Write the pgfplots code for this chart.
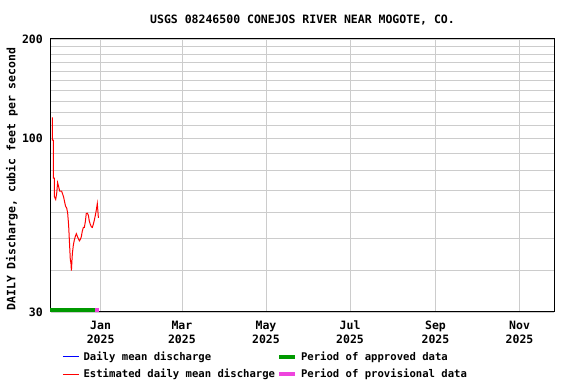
\documentclass[border=0pt]{standalone}
\usepackage{fontspec}
\setmainfont{DejaVu Sans Mono}
\usepackage{pgfplots}
\pgfplotsset{compat=1.18}
\definecolor{gridgray}{RGB}{204,204,204}
\definecolor{apgreen}{RGB}{0,153,0}
\definecolor{provpink}{RGB}{238,68,221}
\definecolor{dmblue}{RGB}{0,0,255}
\definecolor{estred}{RGB}{255,0,0}
\newcommand{\fa}{\fontsize{11.5bp}{14bp}\selectfont\bfseries}
\newcommand{\fb}{\fontsize{10.6bp}{12bp}\selectfont\bfseries}
\begin{document}
\begin{tikzpicture}
\useasboundingbox (-51bp,-72bp) rectangle (525bp,312bp);
\begin{axis}[
  scale only axis, width=503bp, height=273bp,
  xmin=-36, xmax=329, ymode=log, ymin=30, ymax=200,
  xtick={0,59,120,181,243,304},
  xticklabels={{Jan\\2025},{Mar\\2025},{May\\2025},{Jul\\2025},{Sep\\2025},{Nov\\2025}},
  x tick label style={align=center, font=\fa, inner sep=0pt, yshift=-9bp},
  ytick={30,100,200}, yticklabels={30,100,200},
  minor ytick={40,50,60,70,80,90,110,120,130,140,150,160,170,180,190},
  y tick label style={font=\fa, inner sep=0pt, xshift=-8bp},
  grid=both, major grid style={gridgray, line width=0.8bp}, minor grid style={gridgray, line width=0.8bp},
  major tick length=0pt, minor tick length=0pt,
  axis line style={black, line width=1bp},
  title={USGS 08246500 CONEJOS RIVER NEAR MOGOTE, CO.},
  title style={at={(axis description cs:0.5,1)}, anchor=center, yshift=13bp, font=\fa},
  ylabel={DAILY Discharge, cubic feet per second},
  ylabel style={at={(axis description cs:-0.0775,0.487)}, anchor=center, font=\fa},
  legend columns=2,
  legend cell align=left,
  legend style={draw=none, fill=none, at={(axis description cs:0.0219,-0.139)}, anchor=north west, font=\fb, inner sep=0pt, row sep=3bp,
    /tikz/every odd column/.append style={column sep=2bp},
    /tikz/every even column/.append style={column sep=0bp}},
  clip=false
]
\addlegendimage{legend image code/.code={\draw[dmblue, line width=1.4bp] (0bp,0.5bp) -- (16bp,0.5bp);}}
\addlegendentry{Daily mean discharge}
\addlegendimage{legend image code/.code={\draw[apgreen, line width=4bp] (0bp,0bp) -- (16bp,0bp);}}
\addlegendentry{Period of approved data}
\addlegendimage{legend image code/.code={\draw[estred, line width=1.2bp] (0bp,0bp) -- (16bp,0bp);}}
\addlegendentry{Estimated daily mean discharge}
\addlegendimage{legend image code/.code={\draw[provpink, line width=4bp] (0bp,0bp) -- (16bp,0bp);}}
\addlegendentry{Period of provisional data}

\addplot[apgreen, line width=4.5bp, forget plot] coordinates {(-36.7,30.42) (-4.1,30.42)};
\addplot[provpink, line width=4.5bp, forget plot] coordinates {(-4.1,30.42) (-1.0,30.42)};

\addplot[estred, line width=1bp, forget plot] coordinates {
(-35.0,116) (-35.0,99) (-34.3,99) (-34.3,76) (-33.6,76) (-33.6,67) (-32.6,65.6) (-31.9,68.2) (-31.2,73.7) (-30.4,71.5) (-29.7,69.5) (-28.3,69.5) (-27.5,68) (-26.8,66.6) (-26.1,64.4) (-25.4,62.5) (-24.6,61.8) (-23.9,59.6) (-23.2,54.8) (-22.7,49.7) (-22.0,43.3) (-21.5,42.0) (-21.2,40) (-20.5,45) (-19.8,47.7) (-19.1,49.4) (-18.3,50.8) (-17.6,51.7) (-16.9,50.8) (-16.2,50) (-15.4,49.2) (-14.7,49.7) (-14.0,50.6) (-13.3,52.6) (-12.5,54) (-11.8,54) (-11.1,56.1) (-10.4,59.5) (-9.6,59.6) (-8.9,58.8) (-8.2,56.4) (-7.5,55.2) (-6.7,54.2) (-6.0,54) (-5.3,55.2) (-4.6,56.7) (-3.8,58.8) (-3.1,61) (-2.4,63.7) (-1.6,57.7)
};
\end{axis}
\end{tikzpicture}
\end{document}
